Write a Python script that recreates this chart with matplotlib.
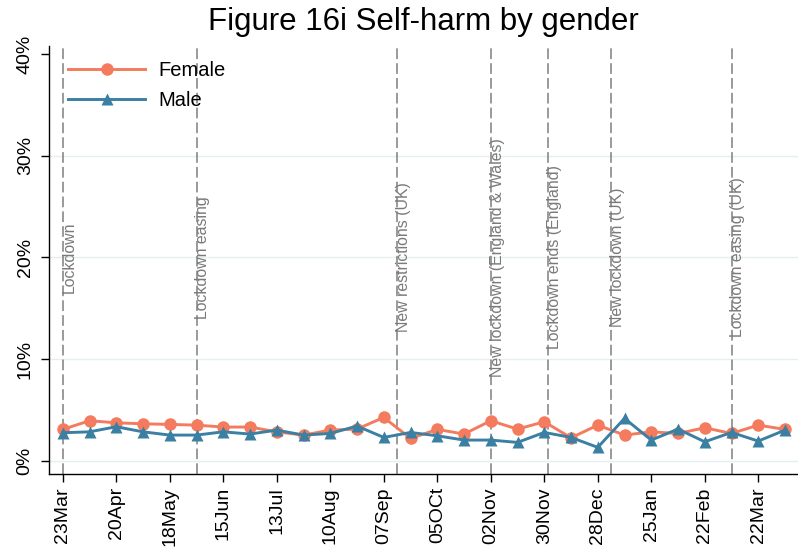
import numpy as np
import pandas as pd
import matplotlib
matplotlib.use("Agg")
import matplotlib.pyplot as plt
import matplotlib.dates as mdates

plt.rcParams['font.family'] = ['Liberation Sans', 'DejaVu Sans']

# fortnightly survey waves
dates = ['2020-03-23', '2020-04-06', '2020-04-20', '2020-05-04', '2020-05-18',
         '2020-06-01', '2020-06-15', '2020-06-29', '2020-07-13', '2020-07-27',
         '2020-08-10', '2020-08-24', '2020-09-07', '2020-09-21', '2020-10-05',
         '2020-10-19', '2020-11-02', '2020-11-16', '2020-11-30', '2020-12-14',
         '2020-12-28', '2021-01-11', '2021-01-25', '2021-02-08', '2021-02-22',
         '2021-03-08', '2021-03-22', '2021-04-05']

female = [3.09, 3.94, 3.74, 3.64, 3.58, 3.51, 3.32, 3.32, 2.85, 2.53,
          3.02, 3.12, 4.27, 2.20, 3.09, 2.63, 3.94, 3.12, 3.84, 2.26,
          3.51, 2.53, 2.85, 2.69, 3.25, 2.69, 3.51, 3.09]
male = [2.76, 2.85, 3.35, 2.85, 2.53, 2.53, 2.85, 2.63, 3.02, 2.53,
        2.69, 3.42, 2.30, 2.79, 2.46, 2.04, 2.04, 1.81, 2.79, 2.30,
        1.32, 4.17, 2.04, 3.12, 1.87, 2.79, 1.94, 3.02]

tick_dates = ['2020-03-23', '2020-04-20', '2020-05-18', '2020-06-15', '2020-07-13',
              '2020-08-10', '2020-09-07', '2020-10-05', '2020-11-02', '2020-11-30',
              '2020-12-28', '2021-01-25', '2021-02-22', '2021-03-22']
tick_labels = ['23Mar', '20Apr', '18May', '15Jun', '13Jul', '10Aug', '07Sep',
               '05OCt', '02Nov', '30Nov', '28Dec', '25Jan', '22Feb', '22Mar']

event_dates = ['2020-03-23', '2020-06-01', '2020-09-14', '2020-11-02',
               '2020-12-02', '2021-01-04', '2021-03-08']
event_labels = ['Lockdown', 'Lockdown easing', 'New restrictions (UK)',
                'New lockdown (England & Wales)', 'Lockdown ends (England)',
                'New lockdown (UK)', 'Lockdown easing (UK)']

y_ticks = [0, 10, 20, 30, 40]

x = pd.to_datetime(dates)

fig = plt.figure(figsize=(7.98, 5.51), dpi=100)
ax = fig.add_axes([0.0614, 0.1397, 0.9386, 0.7768])

for t in y_ticks[:-1]:
    ax.axhline(t, color='#e6eff0', lw=1.0, zorder=0)

for d, lab in zip(event_dates, event_labels):
    ax.axvline(pd.Timestamp(d), color='#7f7f7f', lw=1.1, dashes=(7, 2.7), zorder=1)
    ax.text(pd.Timestamp(d) - pd.Timedelta(days=0.6), 20, lab, rotation=90,
            ha='left', va='center', color='#7a7a7a', fontsize=11.4, zorder=2)

ax.plot(x, female, color='#f47b5e', lw=2.1, marker='o', ms=9, mec='none',
        label='Female', zorder=3)
ax.plot(x, male, color='#3b80a3', lw=2.1, marker='^', ms=9, mec='none',
        label='Male', zorder=4)

ax.set_xlim(pd.Timestamp('2020-03-23') - pd.Timedelta(days=7.2),
            pd.Timestamp('2020-03-23') + pd.Timedelta(days=384.8))
ax.set_ylim(-1.3, 40.8)

ax.set_xticks(pd.to_datetime(tick_dates))
ax.set_xticklabels(tick_labels, rotation=90, fontsize=14)
ax.set_yticks(y_ticks)
ax.set_yticklabels([f'{t}%' for t in y_ticks], rotation=90, va='center', fontsize=14)
ax.tick_params(axis='x', length=6, width=1, pad=3.5)
ax.tick_params(axis='y', length=6, width=1, pad=5)

for s in ['top', 'right']:
    ax.spines[s].set_visible(False)
for s in ['left', 'bottom']:
    ax.spines[s].set_linewidth(1.0)

ax.legend(loc='upper left', bbox_to_anchor=(0.005, 1.0), frameon=False, fontsize=14.5,
          handlelength=3.85, numpoints=1, labelspacing=0.55, borderaxespad=0.35,
          handletextpad=0.65)

fig.text(0.5307, 0.96, 'Figure 16i Self-harm by gender', ha='center', va='center',
         fontsize=22.5)

fig.savefig('out.png', dpi=100)
